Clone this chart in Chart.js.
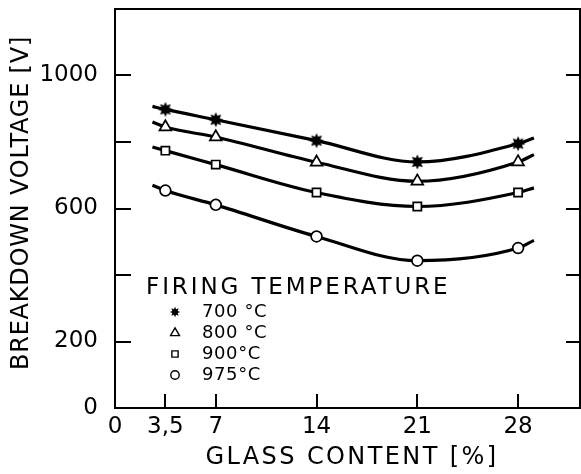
<!DOCTYPE html>
<html>
<head>
<meta charset="utf-8">
<script src="https://cdn.jsdelivr.net/npm/chart.js@4/dist/chart.umd.min.js"></script>
<style>
  html, body { margin: 0; padding: 0; background: #fff; }
  #wrap { width: 581px; height: 474px; position: relative; }
</style>
</head>
<body>
<div id="wrap"><canvas id="c" width="581" height="474"></canvas></div>
<script>
// Glass content of the samples (%)
const glassContent = [3.5, 7, 14, 21, 28];

// Breakdown voltage (V) per firing temperature
const v700 = [898, 867, 804, 740, 795];
const v800 = [845, 815, 739, 682, 740];
const v900 = [774, 732, 648, 606, 648];
const v975 = [654, 611, 516, 443, 481];

// Where each fitted curve begins and ends beyond the measured points
const curveStartX = 2.6;
const curveEndX = 29.1;
const curveStartV = [907, 860, 785, 670];
const curveEndV = [812, 762, 662, 504];

const seriesLabels = ['700 °C', '800 °C', '900°C', '975°C'];
const legendTitle = 'FIRING TEMPERATURE';

// Axis ticks and labels
const xLabelValues = [0, 3.5, 7, 14, 21, 28];
const xTickValues = [3.5, 7, 14, 21, 28];
const yTickValues = [0, 200, 400, 600, 800, 1000];
const yLabelValues = [0, 200, 600, 1000];
const xTitle = 'GLASS CONTENT [%]';
const yTitle = 'BREAKDOWN VOLTAGE [V]';

const FONT = '"DejaVu Sans", "Liberation Sans", sans-serif';

// Filled eight-point burst used for the 700 °C series
function makeStar(size, outer, inner) {
  const cv = document.createElement('canvas');
  cv.width = size; cv.height = size;
  const g = cv.getContext('2d');
  const c = size / 2;
  g.beginPath();
  for (let i = 0; i < 16; i++) {
    const r = i % 2 === 0 ? outer : inner;
    const a = Math.PI * i / 8 - Math.PI / 2;
    const px = c + r * Math.cos(a), py = c + r * Math.sin(a);
    if (i === 0) g.moveTo(px, py); else g.lineTo(px, py);
  }
  g.closePath();
  g.fillStyle = '#000';
  g.fill();
  return cv;
}
const starBig = makeStar(18, 7.6, 4.2);
const starSmall = makeStar(12, 5.2, 2.9);

const pointStyles = [starBig, 'triangle', 'rect', 'circle'];
const pointRadii = [6, 6.8, 5.8, 5.4];
const legendStyles = [starSmall, 'triangle', 'rect', 'circle'];
const legendRadii = [5, 5.2, 4.4, 4.2];

function buildSeries(values, idx) {
  const pts = [{ x: curveStartX, y: curveStartV[idx] }];
  glassContent.forEach((x, i) => pts.push({ x: x, y: values[i] }));
  pts.push({ x: curveEndX, y: curveEndV[idx] });
  return pts;
}

const allValues = [v700, v800, v900, v975];
const datasets = allValues.map((vals, idx) => ({
  label: seriesLabels[idx],
  data: buildSeries(vals, idx),
  borderColor: '#000',
  borderWidth: 3.2,
  cubicInterpolationMode: 'monotone',
  pointStyle: pointStyles[idx],
  pointRadius: ctx => (ctx.dataIndex === 0 || ctx.dataIndex === glassContent.length + 1) ? 0 : pointRadii[idx],
  pointHoverRadius: 0,
  pointBackgroundColor: '#fff',
  pointBorderColor: '#000',
  pointBorderWidth: 1.7,
  fill: false
}));

// Frame, inward tick marks, axis titles and the in-plot legend
const decorations = {
  id: 'decorations',
  afterDatasetsDraw(chart) {
    const { ctx, chartArea: a, scales } = chart;
    const xs = scales.x, ys = scales.y;
    ctx.save();
    ctx.strokeStyle = '#000';
    ctx.lineWidth = 2;
    ctx.strokeRect(a.left, a.top, a.right - a.left, a.bottom - a.top);

    ctx.beginPath();
    yTickValues.forEach(v => {
      if (v === 0) return;
      const py = Math.round(ys.getPixelForValue(v));
      ctx.moveTo(a.left, py); ctx.lineTo(a.left + 16, py);
      ctx.moveTo(a.right, py); ctx.lineTo(a.right - 14, py);
    });
    xTickValues.forEach(v => {
      const px = Math.round(xs.getPixelForValue(v));
      ctx.moveTo(px, a.bottom); ctx.lineTo(px, a.bottom - 14);
    });
    ctx.stroke();

    ctx.fillStyle = '#000';
    ctx.textBaseline = 'middle';

    // axis titles
    ctx.font = '24px ' + FONT;
    ctx.letterSpacing = '2.4px';
    ctx.textAlign = 'center';
    ctx.fillText(xTitle, 352, 458);
    ctx.save();
    ctx.translate(22, 203);
    ctx.rotate(-Math.PI / 2);
    ctx.letterSpacing = '0.8px';
    ctx.fillText(yTitle, 0, 0);
    ctx.restore();

    // legend
    ctx.textAlign = 'left';
    ctx.font = '23px ' + FONT;
    ctx.letterSpacing = '2.9px';
    ctx.fillText(legendTitle, 146, 288);
    ctx.font = '18px ' + FONT;
    ctx.letterSpacing = '0.6px';
    const rowY = [312, 333, 354, 375];
    seriesLabels.forEach((lab, i) => {
      ctx.save();
      ctx.fillStyle = '#fff';
      ctx.strokeStyle = '#000';
      ctx.lineWidth = 1.4;
      Chart.helpers.drawPoint(ctx, { pointStyle: legendStyles[i], radius: legendRadii[i], rotation: 0, borderWidth: 1.4 }, 175, rowY[i]);
      ctx.restore();
      ctx.fillText(lab, 202, rowY[i]);
    });
    ctx.restore();
  }
};

new Chart(document.getElementById('c'), {
  type: 'line',
  data: { datasets },
  options: {
    responsive: false,
    animation: false,
    events: [],
    layout: { padding: { top: 9, right: 1, left: 0, bottom: 0 } },
    plugins: { legend: { display: false }, tooltip: { enabled: false } },
    scales: {
      x: {
        type: 'linear',
        min: 0,
        max: 32.3,
        afterBuildTicks: s => { s.ticks = xLabelValues.map(v => ({ value: v })); },
        afterFit: s => { s.height = 66; s.paddingLeft = 0; s.paddingRight = 0; },
        grid: { display: false, drawTicks: false },
        border: { display: false },
        ticks: {
          autoSkip: false,
          maxRotation: 0,
          padding: 5,
          color: '#000',
          font: { family: FONT, size: 23 },
          callback: v => String(v).replace('.', ',')
        }
      },
      y: {
        type: 'linear',
        min: 0,
        max: 1200,
        afterBuildTicks: s => { s.ticks = yTickValues.map(v => ({ value: v })); },
        afterFit: s => { s.width = 115; s.paddingTop = 0; s.paddingBottom = 0; },
        grid: { display: false, drawTicks: false },
        border: { display: false },
        ticks: {
          padding: 17,
          color: '#000',
          font: { family: FONT, size: 23 },
          callback: v => yLabelValues.includes(v) ? String(v) : ''
        }
      }
    }
  },
  plugins: [decorations]
});
</script>
</body>
</html>
